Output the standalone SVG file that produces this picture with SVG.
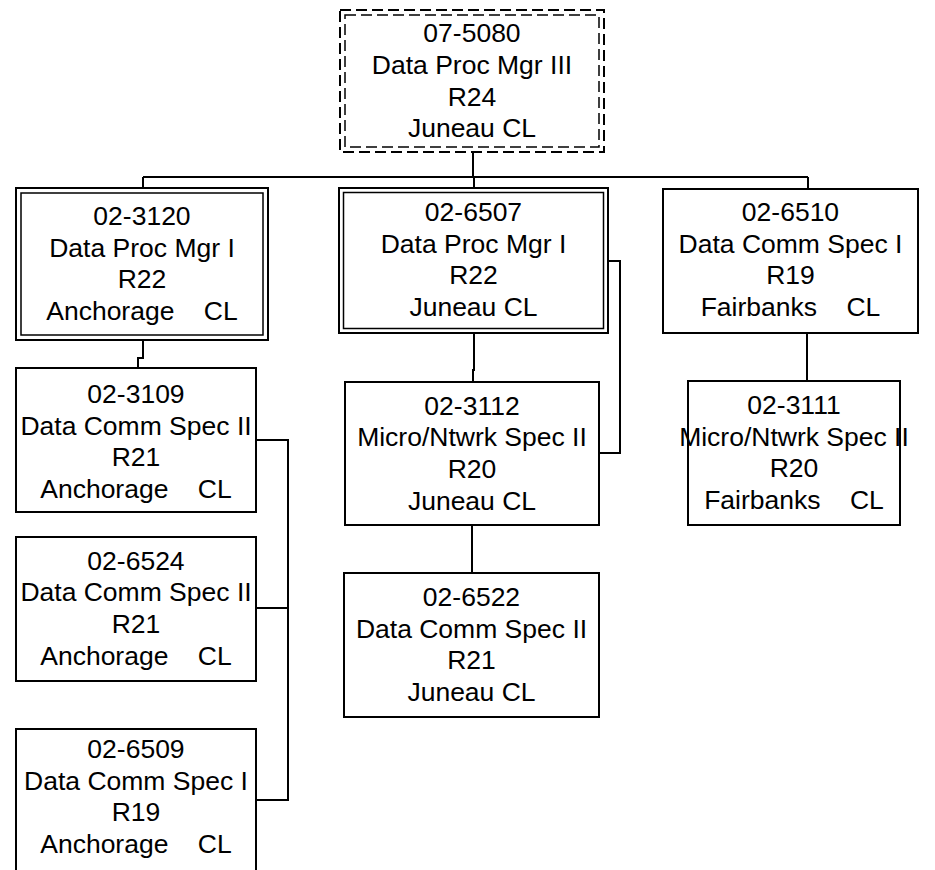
<svg xmlns="http://www.w3.org/2000/svg" width="935" height="870" viewBox="0 0 935 870">
<style>
.box{fill:#fff;stroke:#000;stroke-width:2}
.inner{fill:none;stroke:#000;stroke-width:1.5}
.dash{fill:#fff;stroke:#000;stroke-width:2;stroke-dasharray:11 5}
.dashin{fill:none;stroke:#000;stroke-width:1.5;stroke-dasharray:11 5}
.conn{fill:none;stroke:#000;stroke-width:2}
text{font-family:"Liberation Sans",Arial,sans-serif;font-size:26.5px;fill:#000;text-anchor:middle;white-space:pre}
</style>
<rect width="935" height="870" fill="#fff"/>
<g id="connectors">
<path class="conn" d="M473 152V177M143 177H808M143 177V188M474 177V188M808 177V189"/>
<path class="conn" d="M143 340V358H138V368"/>
<path class="conn" d="M256 440H288V800H256M256 608H288"/>
<path class="conn" d="M474 333V370H473V382"/>
<path class="conn" d="M608 261H620V453H599"/>
<path class="conn" d="M472 525V573"/>
<path class="conn" d="M807 333V381"/>
</g>
<g id="n075080">
<rect class="dash" x="340" y="10" width="264" height="142"/>
<rect class="dashin" x="345" y="15" width="254" height="132"/>
<text x="472" y="42">07-5080</text>
<text x="472" y="74">Data Proc Mgr III</text>
<text x="472" y="105.5">R24</text>
<text x="472" y="137">Juneau CL</text>
</g>
<g id="n023120">
<rect class="box" x="16" y="188" width="252" height="152"/>
<rect class="inner" x="21" y="193" width="242" height="142"/>
<text x="142" y="225">02-3120</text>
<text x="142" y="256.7">Data Proc Mgr I</text>
<text x="142" y="288.4">R22</text>
<text x="142" y="320">Anchorage    CL</text>
</g>
<g id="n026507">
<rect class="box" x="339" y="188" width="269" height="145"/>
<rect class="inner" x="343.5" y="192.5" width="260" height="136"/>
<text x="473.5" y="221">02-6507</text>
<text x="473.5" y="252.7">Data Proc Mgr I</text>
<text x="473.5" y="284.4">R22</text>
<text x="473.5" y="316">Juneau CL</text>
</g>
<g id="n026510">
<rect class="box" x="663" y="189" width="255" height="144"/>
<text x="790.5" y="221">02-6510</text>
<text x="790.5" y="252.7">Data Comm Spec I</text>
<text x="790.5" y="284.4">R19</text>
<text x="790.5" y="316">Fairbanks    CL</text>
</g>
<g id="n023109">
<rect class="box" x="16" y="368" width="240" height="144"/>
<text x="136" y="403">02-3109</text>
<text x="136" y="434.7">Data Comm Spec II</text>
<text x="136" y="466.4">R21</text>
<text x="136" y="498">Anchorage    CL</text>
</g>
<g id="n023112">
<rect class="box" x="345" y="382" width="254" height="143"/>
<text x="472" y="414.5">02-3112</text>
<text x="472" y="446.2">Micro/Ntwrk Spec II</text>
<text x="472" y="477.9">R20</text>
<text x="472" y="509.5">Juneau CL</text>
</g>
<g id="n023111">
<rect class="box" x="688" y="381" width="212" height="144"/>
<text x="794" y="414">02-3111</text>
<text x="794" y="445.7">Micro/Ntwrk Spec II</text>
<text x="794" y="477.4">R20</text>
<text x="794" y="509">Fairbanks    CL</text>
</g>
<g id="n026524">
<rect class="box" x="16" y="537" width="240" height="144"/>
<text x="136" y="569.5">02-6524</text>
<text x="136" y="601.2">Data Comm Spec II</text>
<text x="136" y="632.9">R21</text>
<text x="136" y="664.5">Anchorage    CL</text>
</g>
<g id="n026522">
<rect class="box" x="344" y="573" width="255" height="144"/>
<text x="471.5" y="606">02-6522</text>
<text x="471.5" y="637.7">Data Comm Spec II</text>
<text x="471.5" y="669.4">R21</text>
<text x="471.5" y="701">Juneau CL</text>
</g>
<g id="n026509">
<rect class="box" x="16" y="729" width="240" height="150"/>
<text x="136" y="758">02-6509</text>
<text x="136" y="789.7">Data Comm Spec I</text>
<text x="136" y="821.4">R19</text>
<text x="136" y="853">Anchorage    CL</text>
</g>
</svg>
